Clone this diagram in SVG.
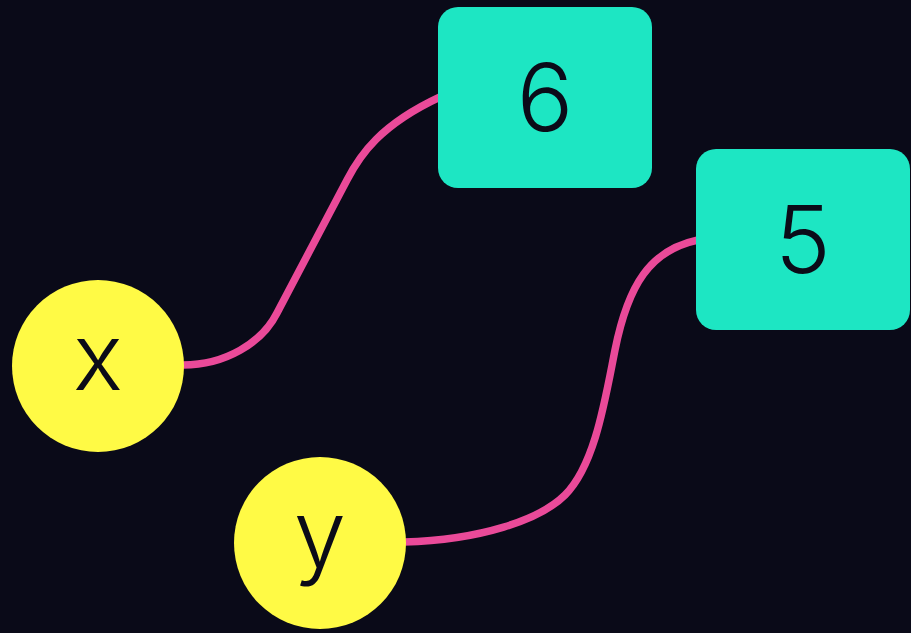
<svg xmlns="http://www.w3.org/2000/svg" width="911" height="633" viewBox="0 0 911 633">
<style>
.lbl{font-family:Inter,"Open Sans","Liberation Sans",sans-serif;font-size:94px;font-weight:300;fill:#0b0b18;text-anchor:middle}
.conn{fill:none;stroke:#ea4a99;stroke-width:7.5;stroke-linecap:butt}
.circ{fill:#fffa45}
.box{fill:#1de6c3}
</style>
<rect width="911" height="633" fill="#0a0a18"/>
<g id="connectors">
<path class="conn" d="M183,365 C225,365 262,343 277,313 L347,180 C360,155 380,125 440,97"/>
<path class="conn" d="M404,542 C480,540 540,520 565,495 C595,465 605,400 615,350 C628,285 650,250 698,240"/>
</g>
<g id="node-x"><circle class="circ" cx="98" cy="366" r="86"/><text class="lbl" x="98" y="390">x</text></g>
<g id="node-y"><circle class="circ" cx="320" cy="543" r="86"/><text class="lbl" x="320" y="567">y</text></g>
<g id="node-6"><rect class="box" x="438" y="7" width="214" height="181" rx="20"/><text class="lbl" x="545" y="131">6</text></g>
<g id="node-5"><rect class="box" x="696" y="149" width="214" height="181" rx="20"/><text class="lbl" x="803" y="273">5</text></g>
</svg>
